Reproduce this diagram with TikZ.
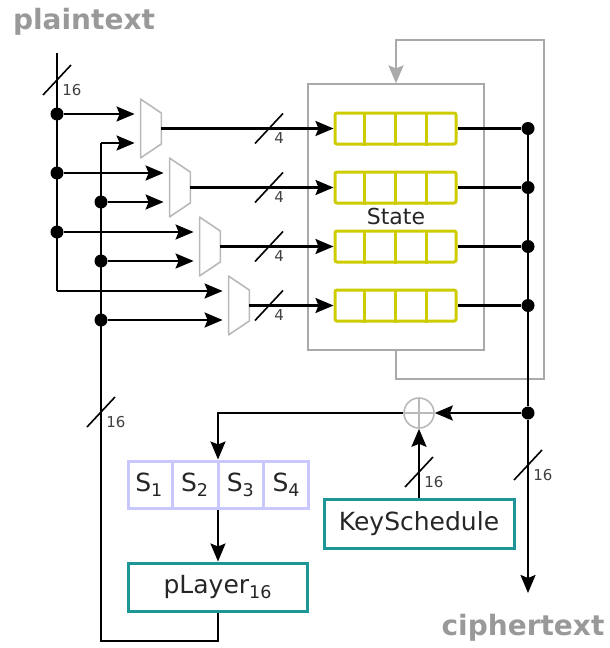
\documentclass[tikz,border=0pt]{standalone}
\usepackage{fontspec}
\setmainfont{DejaVu Sans}
\usepackage{xcolor}
\usepackage{tikz}
\usetikzlibrary{positioning, calc, arrows.meta}
\definecolor{regyellow}{RGB}{204,204,0}
\definecolor{sboxblue}{RGB}{200,200,255}
\definecolor{boxteal}{RGB}{28,150,150}
\definecolor{textgray}{RGB}{153,153,153}
\definecolor{muxgray}{RGB}{185,185,185}
\definecolor{loopgray}{RGB}{170,170,170}
\newcommand{\buswidth}[3]{%
  \draw[slash] ($#2+(-14,15)$) -- ($#2+(14,-15)$);
  \node[buslbl] (#1) at ($#2+(5,10)$) {#3};}

\begin{document}
\begin{tikzpicture}[
  x=0.5pt, y=-0.5pt,
  >={Stealth[length=9pt,width=7.5pt,inset=1.5pt]},
  every node/.style={font=\fontsize{12.5}{14}\selectfont, text=black!85},
  wire/.style={line width=1.1pt},
  slash/.style={line width=0.8pt},
  buslbl/.style={anchor=west, inner sep=0pt, text=black!75,
                 font=\fontsize{7.5}{8}\selectfont},
  dot/.style={circle, fill=black, inner sep=0pt, minimum size=6.5pt},
  title/.style={font=\fontsize{14}{16}\selectfont\bfseries, text=textgray},
  mux/.style={minimum width=10pt, minimum height=29pt, inner sep=0pt},
  muxline/.style={draw=muxgray, line width=0.8pt, fill=white, line join=round},
  reg/.style={draw=regyellow, line width=1.5pt, rounded corners=1pt,
              minimum width=60.5pt, minimum height=15.5pt, inner sep=0pt},
  cell/.style={draw=regyellow, line width=1.5pt},
  sbox/.style={draw=sboxblue, line width=1.5pt, minimum width=90pt,
               minimum height=23.5pt, inner sep=0pt},
  func/.style={draw=boxteal, line width=1.5pt, inner sep=0pt},
  xor/.style={circle, draw=muxgray, line width=0.8pt, minimum size=15pt,
              inner sep=0pt, path picture={
                \draw[muxgray, line width=0.8pt]
                  (path picture bounding box.north) -- (path picture bounding box.south)
                  (path picture bounding box.west) -- (path picture bounding box.east);}},
]
  \useasboundingbox (0,0) rectangle (610,648);

  % State box with feedback loop
  \node[draw=loopgray, line width=0.6pt, minimum width=88pt, minimum height=133pt]
    (state) at (396,217) {};
  \node (statelbl) at (396,216) {\fontsize{11}{13}\selectfont State};
  \coordinate (fbb) at (544,379);
  \coordinate (fbt) at (544,40);
  \draw[loopgray, line width=1pt, ->] (state.south) |- (fbb) -- (fbt) -| (state.north);

  % Muxes and registers, one per row
  \foreach \i/\mx/\ry in {1/151/128.5, 2/180/187.5, 3/210/246.5, 4/239/305.5} {
    \node[mux] (mux\i) at (\mx,\ry) {};
    \draw[muxline] (mux\i.north west) -- ([yshift=-7pt]mux\i.north east)
      -- ([yshift=7pt]mux\i.south east) -- (mux\i.south west) -- cycle;
    \node[reg] (reg\i) at (395.5,\ry) {};
    \foreach \k in {1,2,3}
      \draw[cell] ($(reg\i.north west)!\k/4!(reg\i.north east)$)
               -- ($(reg\i.south west)!\k/4!(reg\i.south east)$);
    \draw[wire, ->] (mux\i.east) -- (reg\i.west);
    \buswidth{w\i}{(269,\ry)}{4}
    \node[dot] (od\i) at (528,\ry) {};
    \draw[wire] (reg\i.east) -- (od\i);
  }

  % Plaintext input
  \node[title] (plain) at (84,22) {plaintext};
  \coordinate (ptop) at (57,53);
  \node[dot] (pd1) at (57,114) {};
  \node[dot] (pd2) at (57,173) {};
  \node[dot] (pd3) at (57,232) {};
  \coordinate (pd4) at (57,291);
  \draw[wire] (ptop) -- (pd4);
  \buswidth{wp}{(57,80)}{16}
  \foreach \i in {1,...,4}
    \draw[wire, ->, shorten >=3pt] (pd\i) -- (pd\i -| mux\i.west);

  % Round feedback line
  \coordinate (kd1) at (101,143);
  \node[dot] (kd2) at (101,202) {};
  \node[dot] (kd3) at (101,261) {};
  \node[dot] (kd4) at (101,320) {};
  \coordinate (kbot) at (101,641);
  \foreach \i in {1,...,4}
    \draw[wire, ->, shorten >=3pt] (kd\i) -- (kd\i -| mux\i.west);

  % Round function
  \node[xor] (xor) at (419,413) {};
  \node[dot] (xd) at (528,413) {};
  \node[sbox] (sbox) at (218,484.5) {};
  \foreach \k in {1,2,3}
    \draw[draw=sboxblue, line width=1.5pt] ($(sbox.north west)!\k/4!(sbox.north east)$)
        -- ($(sbox.south west)!\k/4!(sbox.south east)$);
  \foreach \k in {1,...,4}
    \node (s\k) at ($(sbox.west)!{(\k-0.5)/4}!(sbox.east)$) {S\textsubscript{\k}};
  \node[func, minimum width=89.5pt, minimum height=24pt] (player) at (218,587)
    {pLayer\textsubscript{16}};
  \node[func, minimum width=95pt, minimum height=24.5pt] (ks) at (419,524)
    {KeySchedule};

  \draw[wire] (od1) -- (xd);
  \coordinate (cend) at (528,593);
  \draw[wire, ->] (xd) -- (cend);
  \buswidth{wc}{(528,465)}{16}
  \node[title] (cipher) at (523,628) {ciphertext};

  \draw[wire, ->] (xd) -- (xor.east);
  \draw[wire, ->] (xor.west) -| (sbox.north);
  \draw[wire, ->] (sbox.south) -- (player.north);
  \draw[wire] (player.south) |- (kbot) -- (kd1);
  \buswidth{wk}{(101,412)}{16}
  \draw[wire, ->] (ks.north) -- (xor.south);
  \buswidth{wx}{(419,472)}{16}
\end{tikzpicture}
\end{document}
